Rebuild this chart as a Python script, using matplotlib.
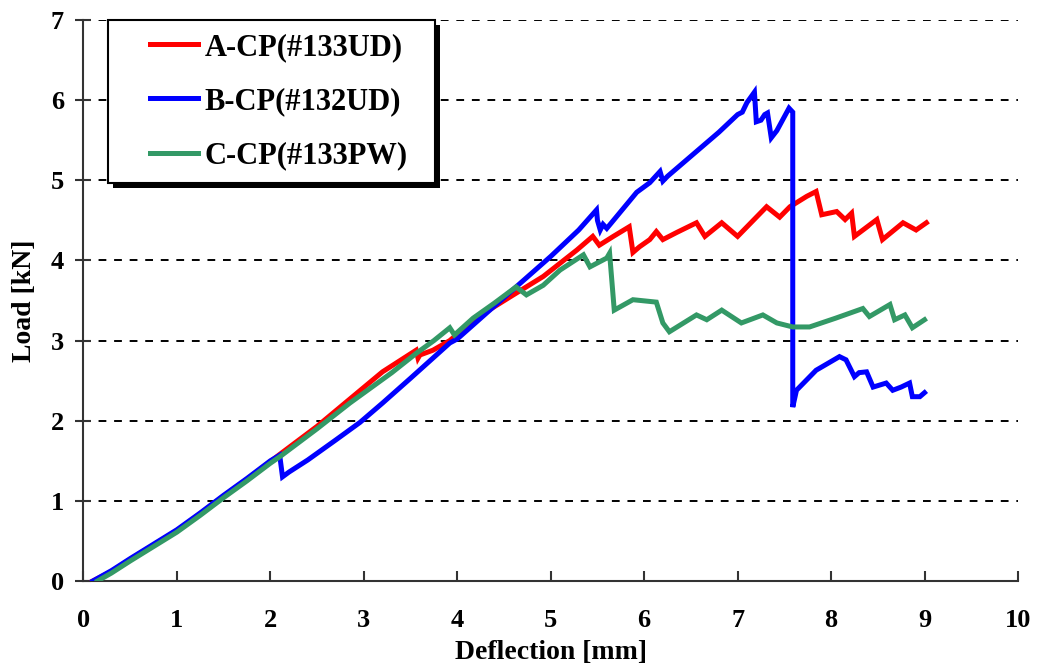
import matplotlib
matplotlib.use("Agg")
import matplotlib.pyplot as plt
from matplotlib.patches import Rectangle
from matplotlib.legend_handler import HandlerLine2D

plt.rcParams['font.family'] = ['Liberation Serif', 'DejaVu Serif']
plt.rcParams['font.weight'] = 'bold'

# load-deflection curves (deflection in mm, load in kN)
a_x = [0.1, 0.3, 0.5, 0.75, 1.0, 1.25, 1.5, 1.75, 2.0, 2.1, 2.5, 2.85, 3.2, 3.56, 3.58, 3.6,
       3.74, 3.92, 4.2, 4.6, 4.92, 5.28, 5.45, 5.52, 5.67, 5.84, 5.88, 5.95, 6.06, 6.13, 6.2,
       6.35, 6.56, 6.65, 6.83, 7.0, 7.31, 7.45, 7.56, 7.74, 7.84, 7.9, 8.06, 8.15, 8.22, 8.25,
       8.49, 8.55, 8.77, 8.91, 9.02]
a_y = [0.0, 0.12, 0.27, 0.45, 0.63, 0.84, 1.06, 1.27, 1.49, 1.58, 1.93, 2.27, 2.61, 2.88, 2.78, 2.82,
       2.88, 3.0, 3.28, 3.57, 3.8, 4.13, 4.3, 4.19, 4.3, 4.42, 4.1, 4.17, 4.26, 4.36, 4.26,
       4.35, 4.47, 4.3, 4.47, 4.3, 4.67, 4.54, 4.67, 4.8, 4.86, 4.57, 4.61, 4.51, 4.59, 4.3,
       4.51, 4.26, 4.47, 4.38, 4.47]

b_x = [0.1, 0.3, 0.5, 0.75, 1.0, 1.25, 1.5, 1.75, 2.0, 2.1, 2.13, 2.2, 2.4, 2.7, 2.96, 3.2,
       3.5, 3.92, 4.0, 4.3, 4.63, 5.0, 5.3, 5.49, 5.5, 5.53, 5.56, 5.6, 5.65, 5.92, 6.06, 6.17,
       6.2, 6.25, 6.5, 6.8, 7.0, 7.05, 7.1, 7.18, 7.2, 7.25, 7.29, 7.32, 7.36, 7.42, 7.55, 7.59,
       7.59, 7.63, 7.84, 8.09, 8.16, 8.25, 8.3, 8.38, 8.45, 8.59, 8.66, 8.75, 8.84, 8.87, 8.95, 9.0]
b_y = [0.0, 0.13, 0.28, 0.46, 0.64, 0.85, 1.07, 1.28, 1.5, 1.57, 1.3, 1.36, 1.51, 1.76, 1.98, 2.22,
       2.53, 2.97, 3.02, 3.33, 3.67, 4.05, 4.38, 4.63, 4.5, 4.38, 4.45, 4.4, 4.47, 4.85, 4.97, 5.11,
       4.99, 5.05, 5.3, 5.6, 5.82, 5.85, 5.97, 6.1, 5.73, 5.75, 5.82, 5.84, 5.53, 5.62, 5.9, 5.85,
       2.17, 2.38, 2.63, 2.8, 2.76, 2.55, 2.6, 2.61, 2.42, 2.47, 2.38, 2.42, 2.47, 2.3, 2.3, 2.35]

c_x = [0.15, 0.3, 0.5, 0.75, 1.0, 1.25, 1.5, 1.75, 2.0, 2.1, 2.5, 2.85, 3.3, 3.56, 3.75, 3.92,
       3.97, 4.17, 4.4, 4.63, 4.74, 4.92, 5.1, 5.35, 5.42, 5.6, 5.63, 5.68, 5.88, 6.13, 6.2,
       6.27, 6.56, 6.67, 6.83, 7.04, 7.27, 7.42, 7.59, 7.77, 8.05, 8.34, 8.41, 8.63, 8.68, 8.79,
       8.87, 9.0]
c_y = [0.0, 0.1, 0.25, 0.43, 0.61, 0.82, 1.04, 1.25, 1.47, 1.55, 1.9, 2.22, 2.6, 2.84, 3.0, 3.16,
       3.07, 3.28, 3.47, 3.67, 3.57, 3.69, 3.88, 4.07, 3.92, 4.03, 4.09, 3.38, 3.51, 3.48, 3.22,
       3.11, 3.32, 3.26, 3.38, 3.22, 3.32, 3.22, 3.17, 3.17, 3.28, 3.4, 3.3, 3.45, 3.26, 3.32,
       3.16, 3.26]

labels = ['A-CP(#133UD)', 'B-CP(#132UD)', 'C-CP(#133PW)']
colors = ['#ff0000', '#0000ff', '#339966']

fig = plt.figure(figsize=(10.38, 6.71), dpi=100)
ax = fig.add_axes([0.0804, 0.1341, 0.9003, 0.8361])

for xs, ys, lab, col, z in zip([a_x, b_x, c_x], [a_y, b_y, c_y], labels, colors, [3, 4, 5]):
    ax.plot(xs, ys, color=col, lw=3.6, label=lab, zorder=z, solid_joinstyle='miter')

ax.set_xlim(0, 10)
ax.set_ylim(0, 7)
ax.set_xticks(range(0, 11))
ax.set_yticks(range(0, 8))
ax.yaxis.grid(True, linestyle=(0, (4, 4)), color='black', lw=1.4)
ax.set_axisbelow(True)

for side in ['top', 'right']:
    ax.spines[side].set_visible(False)
for side in ['left', 'bottom']:
    ax.spines[side].set_linewidth(1.5)
    ax.spines[side].set_color('#333333')

ax.tick_params(axis='x', direction='in', length=7, width=1.5, color='#333333',
               labelsize=19, pad=20)
ax.tick_params(axis='y', direction='inout', length=12, width=1.5, color='#333333',
               labelsize=19, pad=8)
for t in ax.get_xticklabels() + ax.get_yticklabels():
    t.set_fontweight('bold')

ax.set_xlabel('Deflection [mm]', fontsize=20, fontweight='bold', labelpad=6)
ax.set_ylabel('Load [kN]', fontsize=20, fontweight='bold', labelpad=10)

fs = 22
leg = ax.legend(loc='upper left', bbox_to_anchor=(0.026, 1.0, 0.35, 0.0), mode='expand',
                borderaxespad=0, fancybox=False, framealpha=1, edgecolor='black',
                handlelength=2.52, handletextpad=0.23, labelspacing=0.83,
                borderpad=0.42, prop={'weight': 'bold', 'size': fs},
                handler_map={matplotlib.lines.Line2D: HandlerLine2D(xpad=0.95)})
leg.get_frame().set_linewidth(1.5)

# black drop shadow behind the legend box
fig.canvas.draw()
bb = leg.get_frame().get_window_extent()
shadow = Rectangle((bb.x0 + 5, bb.y0 - 5), bb.width, bb.height, transform=None,
                   facecolor='black', edgecolor='none', zorder=9)
fig.add_artist(shadow)
leg.remove()
fig.add_artist(leg)
leg.set_zorder(10)

fig.savefig('out.png', dpi=100)
